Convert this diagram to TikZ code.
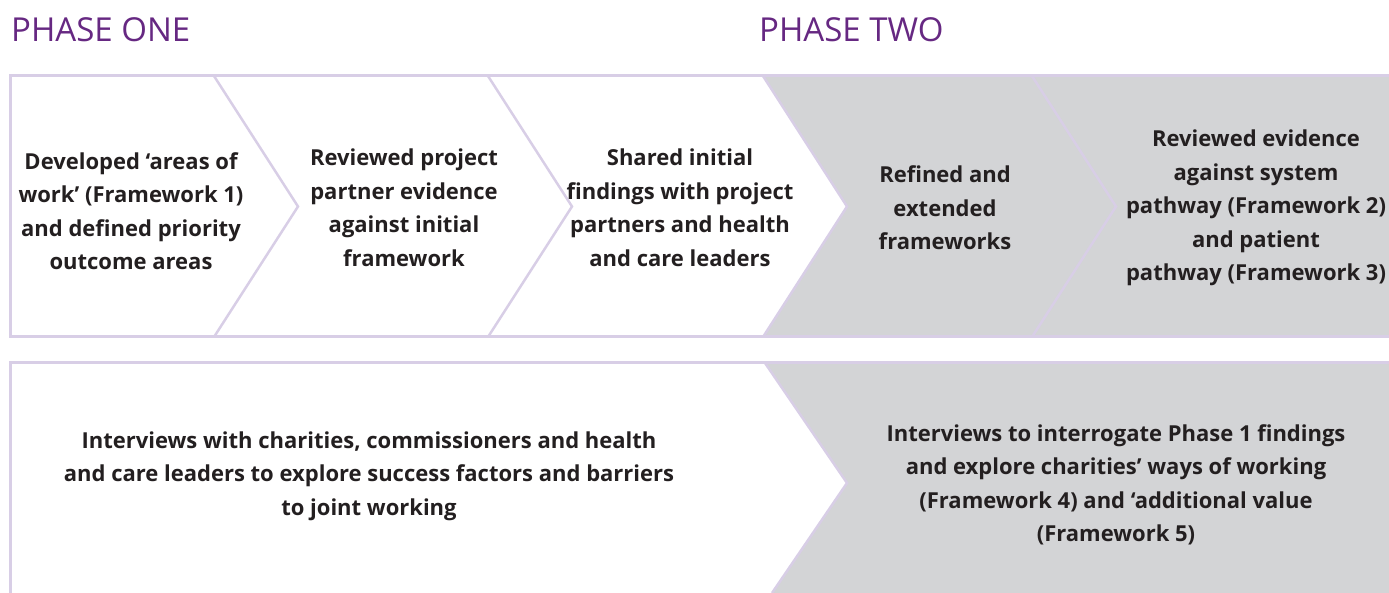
\documentclass[tikz,border=0pt]{standalone}
\usepackage{fontspec}
\setmainfont{Open Sans}
\definecolor{lineP}{RGB}{216,206,230}
\definecolor{grayF}{RGB}{211,212,214}
\definecolor{headP}{RGB}{102,40,130}
\definecolor{txt}{RGB}{35,31,32}
\begin{document}
\begin{tikzpicture}[x=1pt,y=-1pt,
  frame/.style={draw=lineP,line width=3pt},
  chev/.style={draw=lineP,line width=2.5pt},
  body/.style={text=txt,align=center,inner sep=0pt,font=\bfseries\fontsize{22}{33.5}\selectfont},
  head/.style={text=headP,anchor=base west,inner sep=0pt,font=\fontsize{33}{40}\selectfont}]
\useasboundingbox (0,0) rectangle (1389,593);
% gray fills
\fill[grayF] (763,76) -- (847,206.5) -- (763,337) -- (1389,337) -- (1389,76) -- cycle;
\fill[grayF] (765,363) -- (847,483) -- (772,593) -- (1389,593) -- (1389,363) -- cycle;
% frames
\draw[frame] (1389,76) -- (10,76) -- (10,337) -- (1389,337);
\draw[frame] (1389,363) -- (10,363) -- (10,593);
% chevrons
\draw[chev] (214,76) -- (298,206.5) -- (214,337);
\draw[chev] (488,76) -- (572,206.5) -- (488,337);
\draw[chev] (763,76) -- (847,206.5) -- (763,337);
\draw[chev] (1032,76) -- (1116,206.5) -- (1032,337);
\draw[chev] (765,363) -- (847,483) -- (772,593);
% headings
\node[head] (h1) at (11,42) {PHASE ONE};
\node[head] (h2) at (759,42) {PHASE TWO};
% texts
\node[body] (t1) at (131,211) {Developed `areas of\\work' (Framework 1)\\and defined priority\\outcome areas};
\node[body] (t2) at (404,208) {Reviewed project\\partner evidence\\against initial\\framework};
\node[body] (t3) at (680,208) {Shared initial\\findings with project\\partners and health\\and care leaders};
\node[body] (t4) at (945,208) {Refined and\\extended\\frameworks};
\node[body] (t5) at (1256,208) {Reviewed evidence\\against system\\pathway (Framework 2)\\and patient\\pathway (Framework 3)};
\node[body] (b1) at (369,476) {Interviews with charities, commissioners and health\\and care leaders to explore success factors and barriers\\to joint working};
\node[body] (b2) at (1116,485) {Interviews to interrogate Phase 1 findings\\and explore charities' ways of working\\(Framework 4) and `additional value\\(Framework 5)};
\end{tikzpicture}
\end{document}
